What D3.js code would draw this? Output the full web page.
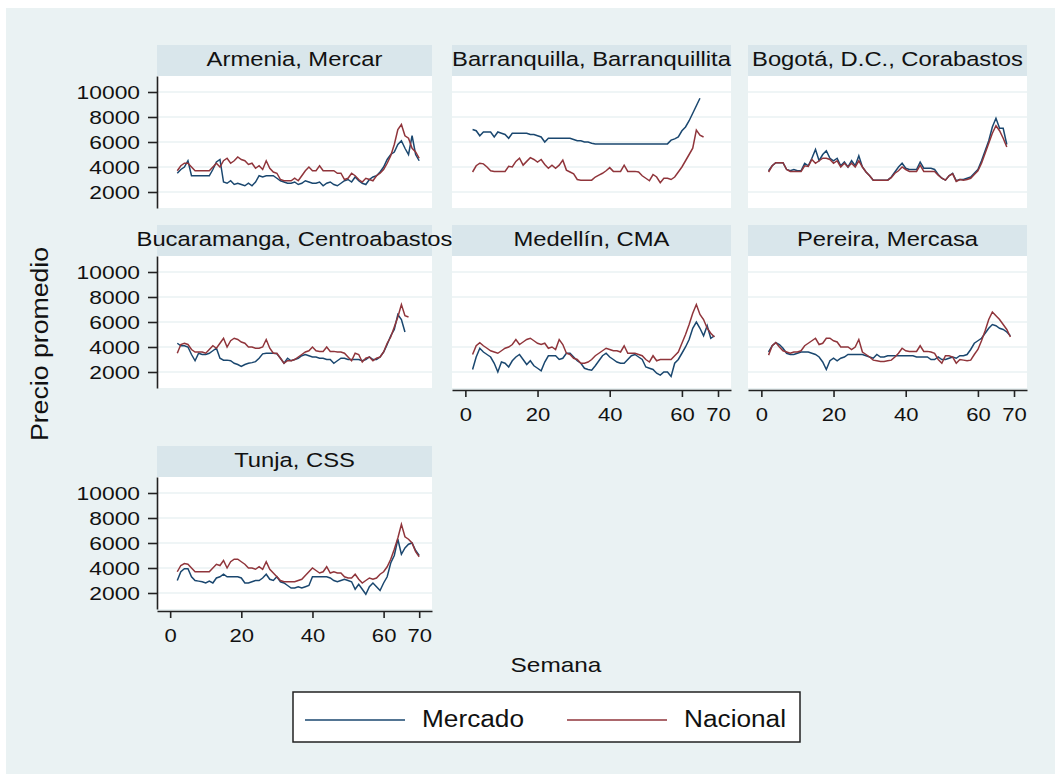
<!DOCTYPE html>
<html>
<head>
<meta charset="utf-8">
<script src="https://cdn.jsdelivr.net/npm/d3@7"></script>
<style>
  body { margin: 0; background: #fff; }
  svg { display: block; font-family: "Liberation Sans", Arial, sans-serif; }
</style>
</head>
<body>
<svg id="chart" width="1055" height="774"></svg>
<script>
// weekly series start at week 2
const firstWeek = 2;
const xTicks = [0, 20, 40, 60, 70];
const yTicks = [2000, 4000, 6000, 8000, 10000];
const seriesNames = ['Mercado', 'Nacional'];
const seriesColors = ['#1a476f', '#90353b'];

const armeniaMercado = [3500, 3800, 4000, 4500, 3300, 3300, 3300, 3300, 3300, 3300,
  3800, 4400, 4600, 2800, 2700, 2900, 2600, 2700, 2600, 2500,
  2700, 2500, 2800, 3300, 3200, 3300, 3300, 3300, 3100, 2900,
  2800, 2700, 2700, 2800, 2600, 2700, 2900, 2800, 2700, 2700,
  2800, 2500, 2700, 2800, 2600, 2500, 2700, 2900, 3000, 2800,
  3200, 2900, 2700, 2600, 3000, 3200, 3300, 3600, 4000, 4600,
  5000, 5200, 5800, 6100, 5500, 5000, 6500, 5000, 4500];
const armeniaNacional = [3700, 4100, 4300, 4300, 4000, 3700, 3700, 3700, 3700, 3700,
  4000, 4300, 4000, 4500, 4700, 4300, 4500, 4800, 4600, 4500,
  4200, 4300, 3900, 4100, 3800, 4500, 3900, 3600, 3500, 3000,
  2900, 2900, 2900, 3100, 2900, 3300, 3700, 4000, 3700, 3700,
  4100, 3700, 3700, 3700, 3700, 3500, 3500, 3000, 3100, 3500,
  3300, 3000, 2800, 3100, 3000, 2900, 3300, 3500, 3800, 4300,
  4900, 5800, 7000, 7400, 6500, 6300, 5500, 5200, 4700];

const barranquillaMercado = [7000, 6900, 6500, 6800, 6800, 6800, 6400, 6800, 6700, 6600,
  6300, 6700, 6700, 6700, 6700, 6700, 6600, 6600, 6500, 6400,
  6000, 6300, 6300, 6300, 6300, 6300, 6300, 6300, 6200, 6100,
  6100, 6000, 6000, 5900, 5850, 5850, 5850, 5850, 5850, 5850,
  5850, 5850, 5850, 5850, 5850, 5850, 5850, 5850, 5850, 5850,
  5850, 5850, 5850, 5850, 5850, 6150, 6250, 6400, 6900, 7200,
  7700, 8300, 8900, 9500];
const barranquillaNacional = [3600, 4100, 4300, 4250, 4000, 3700, 3650, 3650, 3650, 3650,
  4050, 4000, 4450, 4700, 4150, 4450, 4750, 4600, 4400, 4600,
  4200, 3900, 4150, 3900, 4150, 4550, 3750, 3600, 3450, 3000,
  2950, 2950, 2950, 2950, 3200, 3350, 3500, 3700, 3950, 3650,
  3650, 3650, 4150, 3650, 3650, 3650, 3600, 3300, 3100, 2900,
  3400, 3200, 2750, 3100, 3100, 3000, 3200, 3600, 4000, 4500,
  5000, 5500, 6950, 6550, 6400];

const bogotaMercado = [3700, 4100, 4350, 4350, 4350, 3800, 3700, 3800, 3700, 3700,
  4300, 4100, 4700, 5400, 4500, 5000, 5300, 4700, 4500, 4700,
  4100, 4400, 4000, 4500, 4100, 4900, 4000, 3600, 3300, 2950,
  2950, 2950, 2950, 2950, 3200, 3600, 4000, 4300, 3900, 3800,
  3800, 3800, 4400, 3900, 3900, 3900, 3800, 3400, 3100, 2950,
  3300, 3500, 2900, 3000, 3000, 3100, 3200, 3500, 3800, 4500,
  5300, 6100, 7200, 7900, 7100, 7100, 5800];
const bogotaNacional = [3600, 4100, 4350, 4350, 4350, 3800, 3650, 3650, 3650, 3650,
  4100, 4050, 4600, 4300, 4500, 4700, 4700, 4600, 4300, 4500,
  4000, 4300, 4000, 4300, 4000, 4500, 4000, 3600, 3300, 2950,
  2950, 2950, 2950, 2950, 3150, 3500, 3700, 4000, 3800, 3650,
  3650, 3650, 4150, 3650, 3650, 3650, 3650, 3350, 3100, 2950,
  3300, 3450, 2850, 3000, 2950, 3000, 3100, 3400, 3700, 4300,
  5100, 5900, 6700, 7300, 6900, 6300, 5600];

const bucaramangaMercado = [4300, 4100, 4100, 4000, 3400, 2900, 3500, 3400, 3400, 3500,
  3700, 3900, 3100, 2950, 2950, 2900, 2700, 2600, 2450, 2600,
  2700, 2750, 2830, 3100, 3450, 3500, 3500, 3500, 3450, 3100,
  2700, 3100, 2900, 3000, 3100, 3300, 3400, 3300, 3200, 3200,
  3100, 3100, 3000, 3000, 2700, 2900, 3100, 3100, 3000, 3000,
  3000, 3000, 2900, 3000, 3200, 3000, 3000, 3200, 3600, 4200,
  4900, 5400, 6600, 6200, 5200];
const bucaramangaNacional = [3500, 4200, 4300, 4200, 3800, 3600, 3600, 3600, 3500, 3800,
  4100, 3900, 4300, 4700, 4000, 4500, 4700, 4600, 4400, 4300,
  4000, 4000, 3900, 3900, 4000, 4600, 3900, 3500, 3500, 3100,
  2700, 2900, 2900, 3000, 3200, 3400, 3600, 3700, 4000, 3700,
  3650, 3650, 4000, 3650, 3650, 3600, 3600, 3500, 3200, 2900,
  3500, 3400, 2800, 3100, 3200, 2900, 3100, 3200, 3600, 4300,
  4800, 5600, 6400, 7400, 6500, 6400];

const medellinMercado = [2200, 3200, 3900, 3600, 3400, 3200, 2700, 2000, 2800, 2700,
  2400, 2900, 3200, 3400, 3000, 2600, 2900, 2500, 2300, 2100,
  2800, 3300, 3300, 3300, 3000, 3100, 3500, 3500, 3200, 2900,
  2700, 2300, 2200, 2150, 2500, 2900, 3300, 3500, 3200, 3000,
  2800, 2700, 2700, 3000, 3300, 3400, 3200, 3000, 2400, 2300,
  2200, 1900, 1750, 2000, 2000, 1650, 2700, 3000, 3500, 4000,
  4600, 5500, 6000, 5500, 4900, 5700, 4700, 4900];
const medellinNacional = [3400, 4100, 4350, 4100, 3900, 3700, 3600, 3500, 3700, 3900,
  4000, 4200, 4600, 4200, 4400, 4600, 4700, 4500, 4300, 4200,
  4300, 3900, 4000, 3800, 4600, 4200, 3500, 3400, 3100, 3000,
  2700, 2700, 2800, 3000, 3300, 3500, 3700, 3900, 3800, 3700,
  3700, 3600, 4100, 3500, 3500, 3500, 3400, 3300, 3000, 2800,
  3300, 2900, 3000, 3000, 3000, 3000, 3300, 3600, 4300, 5000,
  5800, 6700, 7400, 6600, 6200, 5500, 5100, 4800];

const pereiraMercado = [3600, 4100, 4350, 4200, 3900, 3500, 3400, 3400, 3500, 3600,
  3600, 3600, 3500, 3400, 3200, 2800, 2200, 2900, 3100, 2900,
  3100, 3200, 3400, 3400, 3400, 3400, 3400, 3300, 3200, 3100,
  3400, 3200, 3200, 3300, 3300, 3300, 3300, 3300, 3300, 3300,
  3300, 3200, 3200, 3200, 3200, 3000, 3000, 3200, 3000, 3000,
  3100, 3200, 3100, 3300, 3300, 3400, 3800, 4300, 4500, 4700,
  5100, 5500, 5800, 5700, 5500, 5400, 5200, 4900];
const pereiraNacional = [3350, 4100, 4350, 4000, 3700, 3600, 3500, 3600, 3600, 3700,
  4100, 4300, 4500, 4700, 4200, 4300, 4700, 4700, 4500, 4400,
  4000, 4000, 4000, 3800, 4000, 4600, 3600, 3400, 3200, 2950,
  2900, 2850, 2850, 2900, 2950, 3200, 3500, 3900, 3700, 3650,
  3650, 3650, 4100, 3650, 3650, 3600, 3500, 3000, 2700, 3300,
  3300, 3200, 2700, 3000, 2950, 2900, 2950, 3400, 3800, 4500,
  5300, 6200, 6800, 6500, 6200, 5800, 5400, 4800];

const tunjaMercado = [3000, 3700, 3950, 3950, 3300, 3000, 2950, 2900, 2800, 2950,
  2800, 3200, 3300, 3500, 3300, 3300, 3300, 3300, 3200, 2800,
  2800, 2900, 3000, 3000, 3200, 3500, 3100, 3000, 3300, 2900,
  2800, 2600, 2400, 2400, 2500, 2400, 2500, 2600, 3300, 3300,
  3300, 3300, 3300, 3200, 3000, 2900, 3000, 3100, 3000, 2900,
  2300, 2700, 2300, 1900, 2500, 2800, 2500, 2200, 2800, 3300,
  4400, 5000, 6300, 5100, 5600, 5900, 6000, 5400, 5000];
const tunjaNacional = [3700, 4200, 4350, 4300, 4000, 3700, 3700, 3700, 3700, 3700,
  4000, 4300, 4200, 4600, 4000, 4500, 4700, 4700, 4500, 4300,
  4000, 4000, 3900, 4100, 3900, 4500, 3900, 3600, 3300, 3000,
  2900, 2900, 2900, 2900, 3000, 3100, 3400, 3700, 4000, 3800,
  3600, 3700, 4100, 3600, 3700, 3600, 3600, 3300, 3200, 3200,
  3500, 3100, 2800, 3000, 3200, 3100, 3200, 3500, 3700, 4100,
  4700, 5500, 6400, 7500, 6500, 6300, 6000, 5300, 4900];

// row, col, title, series
const panels = [
  [0, 0, 'Armenia, Mercar', armeniaMercado, armeniaNacional],
  [0, 1, 'Barranquilla, Barranquillita', barranquillaMercado, barranquillaNacional],
  [0, 2, 'Bogotá, D.C., Corabastos', bogotaMercado, bogotaNacional],
  [1, 0, 'Bucaramanga, Centroabastos', bucaramangaMercado, bucaramangaNacional],
  [1, 1, 'Medellín, CMA', medellinMercado, medellinNacional],
  [1, 2, 'Pereira, Mercasa', pereiraMercado, pereiraNacional],
  [2, 0, 'Tunja, CSS', tunjaMercado, tunjaNacional]
];

const cols = [[157, 432], [452, 731], [748, 1027]];
const rows = [[76, 208], [256, 388], [477, 609]];
const stripH = 31;
const textStretch = 1.16;

const svg = d3.select('#chart');

// widen text a bit, the original font renders wider than Arial
function stretch(sel, k) {
  sel.each(function() {
    const w = this.getComputedTextLength();
    this.setAttribute('textLength', w * k);
    this.setAttribute('lengthAdjust', 'spacingAndGlyphs');
  });
}

svg.append('rect')
  .attr('x', 6).attr('y', 8)
  .attr('width', 1049).attr('height', 766)
  .attr('fill', '#eaf2f3');

panels.forEach(([r, c, title, mercado, nacional]) => {
  const [x0, x1] = cols[c];
  const [y0, y1] = rows[r];

  const x = d3.scaleLinear().domain([-3.7, 73.6]).range([x0, x1]);
  const y = d3.scaleLinear().domain([720, 11280]).range([y1, y0]);

  const g = svg.append('g');

  // strip with the market name
  g.append('rect')
    .attr('x', x0).attr('y', y0 - stripH)
    .attr('width', x1 - x0).attr('height', stripH)
    .attr('fill', '#d9e6eb');

  g.append('text')
    .attr('x', (x0 + x1) / 2)
    .attr('y', y0 - stripH + 21)
    .attr('text-anchor', 'middle')
    .attr('font-size', 20.5)
    .attr('fill', '#111')
    .text(title)
    .call(stretch, textStretch);

  g.append('rect')
    .attr('x', x0).attr('y', y0)
    .attr('width', x1 - x0).attr('height', y1 - y0)
    .attr('fill', '#fff');

  g.selectAll('.grid')
    .data(yTicks)
    .enter()
    .append('line')
      .attr('x1', x0).attr('x2', x1)
      .attr('y1', d => y(d)).attr('y2', d => y(d))
      .attr('stroke', '#eaf2f3')
      .attr('stroke-width', 1.5);

  const line = d3.line()
    .x((d, i) => x(firstWeek + i))
    .y(d => y(d));

  [mercado, nacional].forEach((values, k) => {
    g.append('path')
      .datum(values)
      .attr('d', line)
      .attr('fill', 'none')
      .attr('stroke', seriesColors[k])
      .attr('stroke-width', 1.5);
  });

  if (c === 0) {
    const ax = g.append('g')
      .attr('transform', 'translate(' + x0 + ',0)')
      .call(d3.axisLeft(y).tickValues(yTicks).tickFormat(d3.format('d'))
        .tickSize(9).tickSizeOuter(0).tickPadding(8));
    ax.attr('font-size', 19).attr('font-family', null);
    ax.selectAll('path, line').attr('stroke', '#222').attr('stroke-width', 1.6);
    ax.selectAll('text').attr('fill', '#111').call(stretch, 1.2);
  }

  // x axis only where no panel sits below
  const hasBelow = panels.some(p => p[0] === r + 1 && p[1] === c);
  if (!hasBelow) {
    const ax = g.append('g')
      .attr('transform', 'translate(0,' + (y1 + 2) + ')')
      .call(d3.axisBottom(x).tickValues(xTicks).tickFormat(d3.format('d'))
        .tickSize(7).tickSizeOuter(0).tickPadding(11));
    ax.attr('font-size', 19).attr('font-family', null);
    ax.selectAll('path, line').attr('stroke', '#222').attr('stroke-width', 1.6);
    ax.selectAll('text').attr('fill', '#111').call(stretch, textStretch);
  }
});

// axis titles
svg.append('text')
  .attr('transform', 'translate(48,344) rotate(-90)')
  .attr('text-anchor', 'middle')
  .attr('font-size', 23)
  .attr('fill', '#111')
  .text('Precio promedio')
  .call(stretch, textStretch);

svg.append('text')
  .attr('x', 556).attr('y', 672)
  .attr('text-anchor', 'middle')
  .attr('font-size', 21)
  .attr('fill', '#111')
  .text('Semana')
  .call(stretch, textStretch);

// legend
const legend = svg.append('g');
legend.append('rect')
  .attr('x', 293).attr('y', 692)
  .attr('width', 507).attr('height', 50)
  .attr('fill', '#fff')
  .attr('stroke', '#222')
  .attr('stroke-width', 1.5);

const legendX = [[305, 422], [567, 684]];
seriesNames.forEach((name, k) => {
  legend.append('line')
    .attr('x1', legendX[k][0]).attr('x2', legendX[k][0] + 100)
    .attr('y1', 720).attr('y2', 720)
    .attr('stroke', seriesColors[k])
    .attr('stroke-width', 1.5);
  legend.append('text')
    .attr('x', legendX[k][1]).attr('y', 727)
    .attr('font-size', 23)
    .attr('fill', '#111')
    .text(name)
    .call(stretch, 1.14);
});
</script>
</body>
</html>
